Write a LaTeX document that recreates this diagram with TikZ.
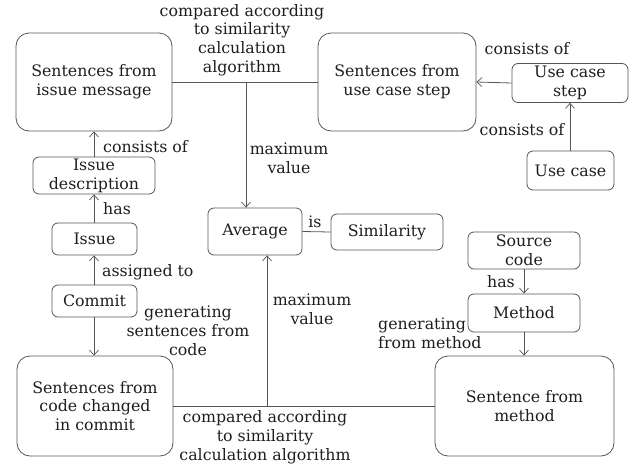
\documentclass[tikz,border=0pt]{standalone}
\usepackage{fontspec}
\setmainfont{DejaVu Serif}
\usetikzlibrary{arrows.meta}
\definecolor{ln}{RGB}{85,85,85}
\definecolor{tx}{RGB}{30,30,30}
\tikzset{
  base/.style={draw=ln, line width=0.8pt, text=tx, align=center, inner sep=0pt},
  bigbox/.style={base, rounded corners=13pt},
  smallbox/.style={base, rounded corners=6pt},
  lbl/.style={text=tx, align=center, inner sep=0pt},
  conn/.style={draw=ln, line width=0.8pt},
  arr/.style={conn, -{Straight Barb[length=5pt,width=9pt,line width=0.7pt]}},
}
\begin{document}
\begin{tikzpicture}[x=1pt,y=-1pt, font=\fontsize{15.8}{18.8}\selectfont]
\useasboundingbox (0,0) rectangle (629,469);
% boxes
\node[bigbox, minimum width=156pt, minimum height=98pt] (sim) at (94,82) {Sentences from\\issue message};
\node[bigbox, minimum width=158pt, minimum height=98pt] (suc) at (397,82) {Sentences from\\use case step};
\node[smallbox, minimum width=116pt, minimum height=39pt] (ucs) at (570,83) {Use case\\step};
\node[smallbox, minimum width=87pt, minimum height=39pt] (uc) at (570.5,170.5) {Use case};
\node[smallbox, minimum width=122pt, minimum height=37pt] (idesc) at (94,175.5) {Issue\\description};
\node[smallbox, minimum width=85pt, minimum height=32pt] (iss) at (94.5,239) {Issue};
\node[smallbox, minimum width=85pt, minimum height=32pt] (com) at (94.5,301) {Commit};
\node[bigbox, minimum width=156pt, minimum height=100pt] (scc) at (95,406) {Sentences from\\code changed\\in commit};
\node[smallbox, minimum width=94pt, minimum height=47pt] (avg) at (255,231.5) {Average};
\node[smallbox, minimum width=112pt, minimum height=36pt] (simil) at (387,232) {Similarity};
\node[smallbox, minimum width=112pt, minimum height=37pt] (src) at (524,250.5) {Source\\code};
\node[smallbox, minimum width=112pt, minimum height=38pt] (meth) at (524,313) {Method};
\node[bigbox, minimum width=179pt, minimum height=100pt] (sfm) at (524.5,406) {Sentence from\\method};
% top comparison
\draw[conn] (sim.east) -- (suc.west);
\coordinate (j1) at (246,82);
\draw[arr] (j1) -- (j1 |- avg.north);
\node[lbl] (lt) at (242,40) {compared according\\to similarity\\calculation\\algorithm};
\node[lbl] (lmt) at (289,158) {maximum\\value};
% bottom comparison
\draw[conn] (scc.east) -- (sfm.west);
\coordinate (j2) at (267,406);
\draw[arr] (j2) -- (j2 |- avg.south);
\node[lbl] (lb) at (265,437) {compared according\\to similarity\\calculation algorithm};
\node[lbl] (lmb) at (312,309) {maximum\\value};
% average is similarity
\draw[conn] (avg.east) -- (simil.west);
\node[lbl] (lis) at (315,222) {is};
% use case chain
\draw[arr] (ucs.west) -- (suc.east);
\node[lbl] (lc1) at (527,49) {consists of};
\draw[arr] (uc.north -| ucs) -- (ucs.south);
\node[lbl] (lc2) at (522,130) {consists of};
% issue chain
\draw[arr] (idesc.north) -- (sim.south -| idesc);
\node[lbl, anchor=west] (lc3) at (103,147) {consists of};
\draw[arr] (iss.north -| idesc) -- (idesc.south);
\node[lbl, anchor=west] (lhas) at (103,209) {has};
\draw[arr] (com.north -| idesc) -- (iss.south -| idesc);
\node[lbl, anchor=west] (lass) at (102,272) {assigned to};
\draw[arr] (com.south -| idesc) -- (scc.north -| idesc);
\node[lbl] (lgen) at (188,331) {generating\\sentences from\\code};
% source code chain
\draw[arr] (src.south) -- (meth.north);
\node[lbl] (lhas2) at (501,282) {has};
\draw[arr] (meth.south) -- (sfm.north -| meth);
\node[lbl, align=left, anchor=west] (lgm) at (378,333.5) {generating\\from method};
\end{tikzpicture}
\end{document}
